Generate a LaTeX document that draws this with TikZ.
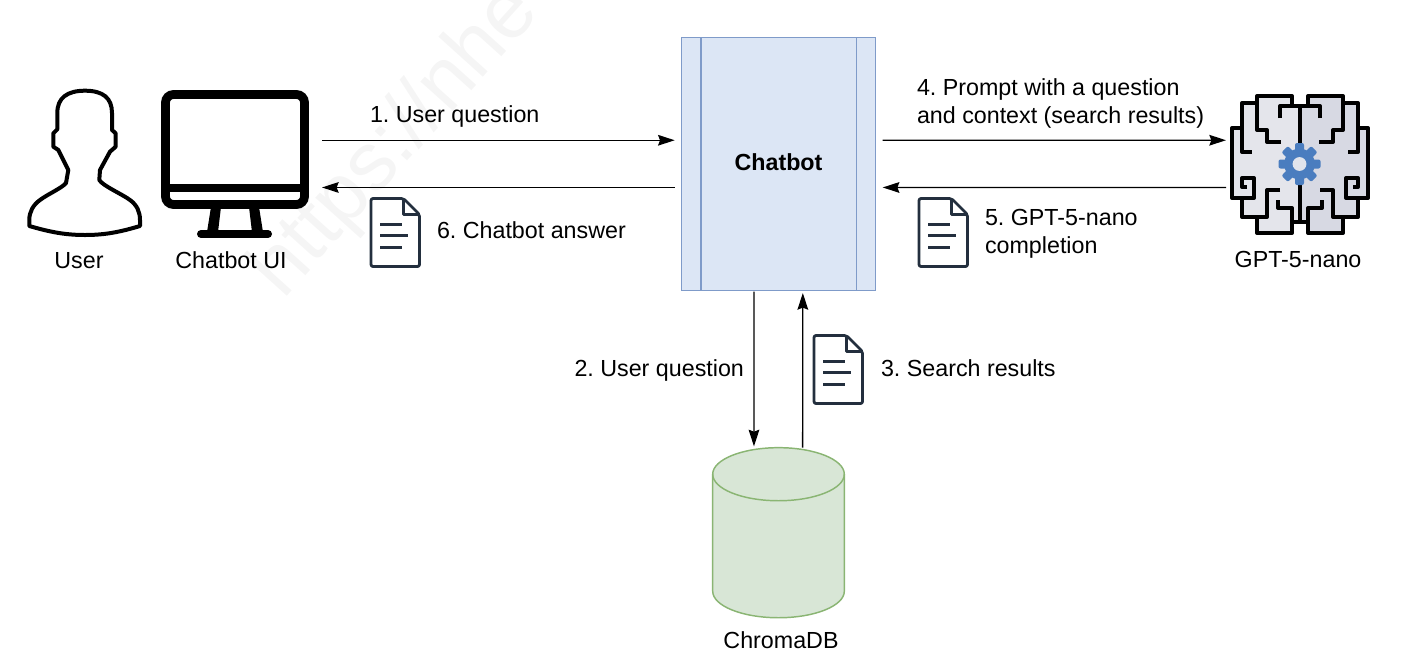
\documentclass[tikz,border=0pt]{standalone}
\usepackage{fontspec}
\setmainfont{Liberation Sans}
\usepackage{tikz}
\usetikzlibrary{arrows.meta}

\definecolor{boxfill}{HTML}{DCE6F5}
\definecolor{boxline}{HTML}{7F9BC9}
\definecolor{dbfill}{HTML}{D8E6D6}
\definecolor{dbline}{HTML}{8AB573}
\definecolor{docline}{HTML}{232F3E}
\definecolor{brainleft}{HTML}{E4E5EB}
\definecolor{brainright}{HTML}{D7D9E3}
\definecolor{gearblue}{HTML}{4A7DBF}
\definecolor{gearhole}{HTML}{E0E4EC}
\definecolor{markgray}{HTML}{F5F5F5}

\tikzset{
  txt/.style={inner sep=0pt, outer sep=0pt, font=\fontsize{17.45pt}{21pt}\selectfont, text=black},
  iconbox/.style={inner sep=0pt, outer sep=0pt},
  flow/.style={-{Stealth[length=12.5pt,width=8pt,inset=1.5pt]}, line width=1pt, black},
  gapped/.style={shorten >=5.25pt, shorten <=5.25pt},
  brainline/.style={black, line width=3pt, line join=round},
  docicon/.pic={
    \draw[docline, line width=2.1pt, line join=round, rounded corners=1.5pt]
      (0,0) -- (32.5,0) -- (48.5,16) -- (48.5,68) -- (0,68) -- cycle;
    \draw[docline, line width=2.1pt, line join=round] (32.5,0) -- (32.5,16) -- (48.5,16);
    \foreach \y/\w in {26/22, 37/28, 49/22}
      \draw[docline, line width=2.1pt] (9,\y) -- ++(\w,0);
  }
}

\begin{document}
\frenchspacing
\begin{tikzpicture}[x=0.75pt, y=-0.75pt]
\useasboundingbox (0,0) rectangle (1412,664);

% watermark
\begin{scope}
\clip (0,0) rectangle (1412,664);
\node[txt, anchor=base west, rotate=48, text=markgray, font=\fontsize{62pt}{62pt}\selectfont] (mark) at (283,300) {https://nhe};
\end{scope}

% server and database
\node[rectangle, draw=boxline, fill=boxfill, line width=1.1pt, outer sep=0pt, inner sep=0pt,
      minimum width=145.5pt, minimum height=189.5pt] (chatbot) at (778.7,164) {};
\draw[boxline, line width=1.1pt] ([xshift=14.3pt]chatbot.north west) -- ([xshift=14.3pt]chatbot.south west);
\draw[boxline, line width=1.1pt] ([xshift=-14.3pt]chatbot.north east) -- ([xshift=-14.3pt]chatbot.south east);
\node[txt, font=\fontsize{17.45pt}{21pt}\selectfont\bfseries, anchor=base] (chatbotlabel) at (778.5,170) {Chatbot};

\node[iconbox, minimum width=98.7pt, minimum height=127.5pt] (chroma) at (778.5,532.7) {};
\draw[dbline, fill=dbfill, line width=1.1pt]
  (712.7,474.2) -- (712.7,591.2) arc[start angle=180, end angle=360, x radius=49.35pt, y radius=19.9pt]
  -- (844.3,474.2) arc[start angle=0, end angle=180, x radius=49.35pt, y radius=19.9pt] -- cycle;
\draw[dbline, line width=1.1pt] (712.7,474.2) arc[start angle=180, end angle=360, x radius=49.35pt, y radius=19.9pt];
\node[txt, anchor=base] (chromalabel) at (781,648) {ChromaDB};

% user
\node[iconbox, minimum width=84pt, minimum height=110pt] (user) at (85,163) {};
\draw[black, line width=3pt, line join=round, fill=white]
  (85,90.7) .. controls (103,90.7) and (112,98) .. (112,113) -- (112,130)
  -- (115.7,133.3) -- (115.7,146.7) -- (110,151.7) -- (100,170) -- (99.3,180)
  .. controls (103,186) and (122,194) .. (130,200)
  .. controls (137,205) and (140,212) .. (140,220) -- (140,226)
  .. controls (120,232) and (105,235) .. (85,235)
  .. controls (65,235) and (50,232) .. (29.3,226) -- (29.3,220)
  .. controls (29.3,212) and (33,205) .. (40,200)
  .. controls (48,194) and (62,188) .. (66,183)
  -- (68.3,170) -- (58.3,150) -- (53.3,146.7) -- (53.3,133.3) -- (57.3,129.3) -- (57.3,113)
  .. controls (57.3,98) and (67,90.7) .. (85,90.7) -- cycle;
\node[txt, anchor=base] (userlabel) at (79,268) {User};

% chatbot ui
\node[iconbox, minimum width=120pt, minimum height=112pt] (ui) at (235,164) {};
\draw[black, line width=6.6pt, rounded corners=6pt] (165.5,94.5) rectangle (304.5,204.5);
\draw[black, line width=6.6pt] (165.5,188) -- (304.5,188);
\fill[black] (211,207) -- (221,207) -- (218,232) -- (207,232) -- cycle;
\fill[black] (249,207) -- (259,207) -- (263,232) -- (252,232) -- cycle;
\draw[black, line width=6pt, line cap=round] (201,234) -- (268,234);
\node[txt, anchor=base] (uilabel) at (231,268) {Chatbot UI};

% model
\node[iconbox, minimum width=100.5pt, minimum height=103pt] (brain) at (1300,164.5) {};
\foreach \m/\c in {1/brainleft,-1/brainright}{
  \begin{scope}[shift={(1300,0)}, xscale=\m]
    \fill[\c] (0,106) -- (-8,106) -- (-8,96) -- (-43,96) -- (-43,103) -- (-58,103) -- (-58,128)
      -- (-68,128) -- (-68,198) -- (-58,198) -- (-58,217) -- (-43,217) -- (-43,233) -- (-8,233) -- (-8,222) -- (0,222) -- cycle;
    \draw[brainline]
      (-20,118) -- (-20,106) -- (-8,106) -- (-8,96) -- (-43,96) -- (-43,103) -- (-58,103) -- (-58,128)
      -- (-68,128) -- (-68,198) -- (-58,198) -- (-58,217) -- (-43,217) -- (-43,233) -- (-8,233) -- (-8,222) -- (0,222);
    \draw[brainline] (-20,106) -- (0,106);
    \draw[brainline] (-43,103) -- (-43,130) -- (-33,130) -- (-33,142) -- (-19,142);
    \draw[brainline] (-58,128) -- (-58,152) -- (-48,152);
    \draw[brainline] (-53,187) -- (-58,187) -- (-58,178) -- (-46,178) -- (-46,198) -- (-68,198);
    \draw[brainline] (-20,190) -- (-33,190) -- (-33,217) -- (-43,217);
    \draw[brainline] (-22,200) -- (-22,208) -- (-8,208) -- (-8,222);
    \draw[brainline] (0,106) -- (0,146) (0,184) -- (0,222);
  \end{scope}
}
\foreach \a in {0,45,...,315}
  \fill[gearblue, rounded corners=1.5pt, rotate around={\a:(1299.5,164)}] (1295,143) rectangle (1304,156);
\fill[gearblue] (1299.5,164) circle (11.5pt);
\fill[gearhole] (1299.5,164) circle (5.2pt);
\node[txt, anchor=base] (brainlabel) at (1298,267.5) {GPT-5-nano};

% documents
\pic at (371,198.5) {docicon};
\pic at (919,198.5) {docicon};
\pic at (814,335.5) {docicon};

% labels
\node[txt, anchor=base west] (step1) at (370,122) {1. User question};
\node[txt, anchor=base west] (step2) at (574.5,376) {2. User question};
\node[txt, anchor=base west] (step3) at (881,376) {3. Search results};
\node[txt, anchor=west, align=left] (step4) at (917,103) {4. Prompt with a question\\and context (search results)};
\node[txt, anchor=west, align=left] (step5) at (985,234) {5. GPT-5-nano\\completion};
\node[txt, anchor=base west] (step6) at (437,238.5) {6. Chatbot answer};

% connectors
\draw[flow, gapped] ([yshift=17.8pt]ui.east) -- ([yshift=17.8pt]chatbot.west);
\draw[flow, gapped] ([yshift=-17.6pt]chatbot.west) -- ([yshift=-17.6pt]ui.east);
\draw[flow, gapped] ([yshift=17.8pt]chatbot.east) -- ([yshift=18.2pt]brain.west);
\draw[flow, gapped] ([yshift=-17.25pt]brain.west) -- ([yshift=-17.6pt]chatbot.east);
\draw[flow, shorten <=1pt, shorten >=1pt] ([xshift=-18.5pt]chatbot.south) -- ([xshift=-18.4pt]chroma.north);
\draw[flow, shorten >=2pt] ([xshift=18.1pt]chroma.north) -- ([xshift=18.1pt]chatbot.south);

\end{tikzpicture}
\end{document}
